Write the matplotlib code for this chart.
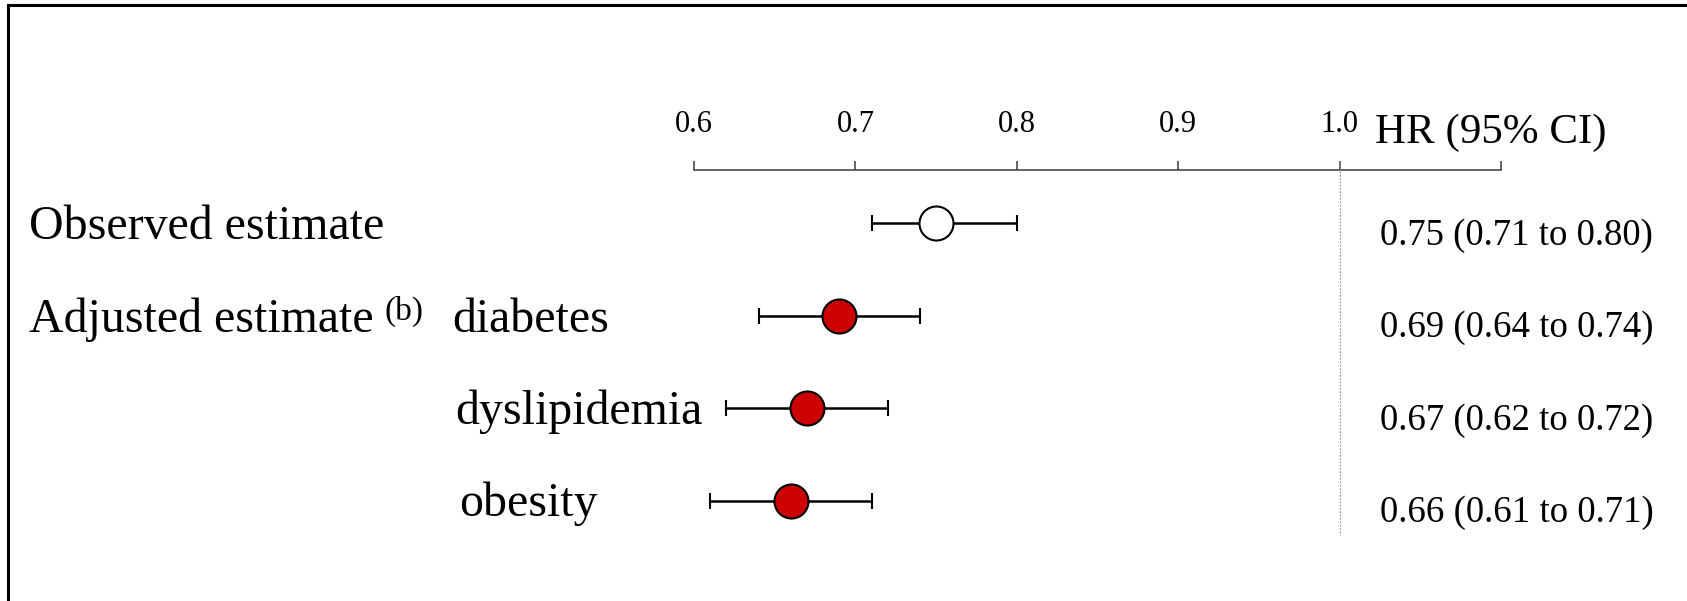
import matplotlib.pyplot as plt
from matplotlib.lines import Line2D
from matplotlib import transforms

plt.rcParams['font.family'] = ['Liberation Serif', 'DejaVu Serif']

# data
row_labels = ['Observed estimate', 'diabetes', 'dyslipidemia', 'obesity']
hr = [0.75, 0.69, 0.67, 0.66]
ci_low = [0.71, 0.64, 0.62, 0.61]
ci_high = [0.80, 0.74, 0.72, 0.71]
ci_text = ['0.75 (0.71 to 0.80)', '0.69 (0.64 to 0.74)',
           '0.67 (0.62 to 0.72)', '0.66 (0.61 to 0.71)']
fills = ['white', '#cc0000', '#cc0000', '#cc0000']
ticks = [0.6, 0.7, 0.8, 0.9, 1.0, 1.1]
tick_labels = ['0.6', '0.7', '0.8', '0.9', '1.0', '']

W, H = 1687, 601
fig = plt.figure(figsize=(W / 100, H / 100), dpi=100)
ax = fig.add_axes([0, 0, 1, 1])
# x axis in HR units: 0.6 sits at pixel 694, 0.1 per 161.4 px; y in pixels
px0, step = 694, 1614
ax.set_xlim(0.6 - px0 / step, 0.6 + (W - px0) / step)
ax.set_ylim(H, 0)
ax.axis('off')
left = transforms.blended_transform_factory(ax.transAxes, ax.transData)

rows_y = [223 + 92.5 * i for i in range(len(hr))]

# scale on top
ax.plot([ticks[0], ticks[-1]], [170, 170], color='#3a3a3a', lw=1.1)
ax.vlines(ticks, 161, 170, color='#3a3a3a', lw=1.1)
for t, lab in zip(ticks, tick_labels):
    ax.text(t, 132, lab, ha='center', va='baseline', fontsize=22)
ax.text(1375 / W, 143, 'HR (95% CI)', transform=left, ha='left',
        va='baseline', fontsize=31)

# reference line at 1.0
ax.vlines(1.0, 161, 535, colors='#888888', linestyles=(0, (1.5, 1.5)), lw=0.8)

for i in range(len(hr)):
    ax.errorbar(hr[i], rows_y[i],
                xerr=[[hr[i] - ci_low[i]], [ci_high[i] - hr[i]]],
                fmt='o', ms=24.5, mfc=fills[i], mec='black', mew=1.5,
                ecolor='black', elinewidth=1.8, capsize=5.5, capthick=1.2)
    ax.text(1380 / W, rows_y[i] + 21.5, ci_text[i], transform=left,
            ha='left', va='baseline', fontsize=26.5)

# row labels
label_x = [29, 452, 455, 459]
for i, lab in enumerate(row_labels):
    ax.text(label_x[i] / W, rows_y[i] + 16, lab, transform=left,
            ha='left', va='baseline', fontsize=34.5)
ax.text(29 / W, rows_y[1] + 16, 'Adjusted estimate', transform=left,
        ha='left', va='baseline', fontsize=34.5)
ax.text(385 / W, rows_y[1] + 4, '(b)', transform=left,
        ha='left', va='baseline', fontsize=24)

# frame (top and left edges visible)
fig.add_artist(Line2D([8 / W, 1], [1 - 5 / H, 1 - 5 / H], color='black',
                      lw=2.2, transform=fig.transFigure))
fig.add_artist(Line2D([8 / W, 8 / W], [0, 1 - 5 / H], color='black',
                      lw=2.2, transform=fig.transFigure))

fig.savefig('out.png', dpi=100)
